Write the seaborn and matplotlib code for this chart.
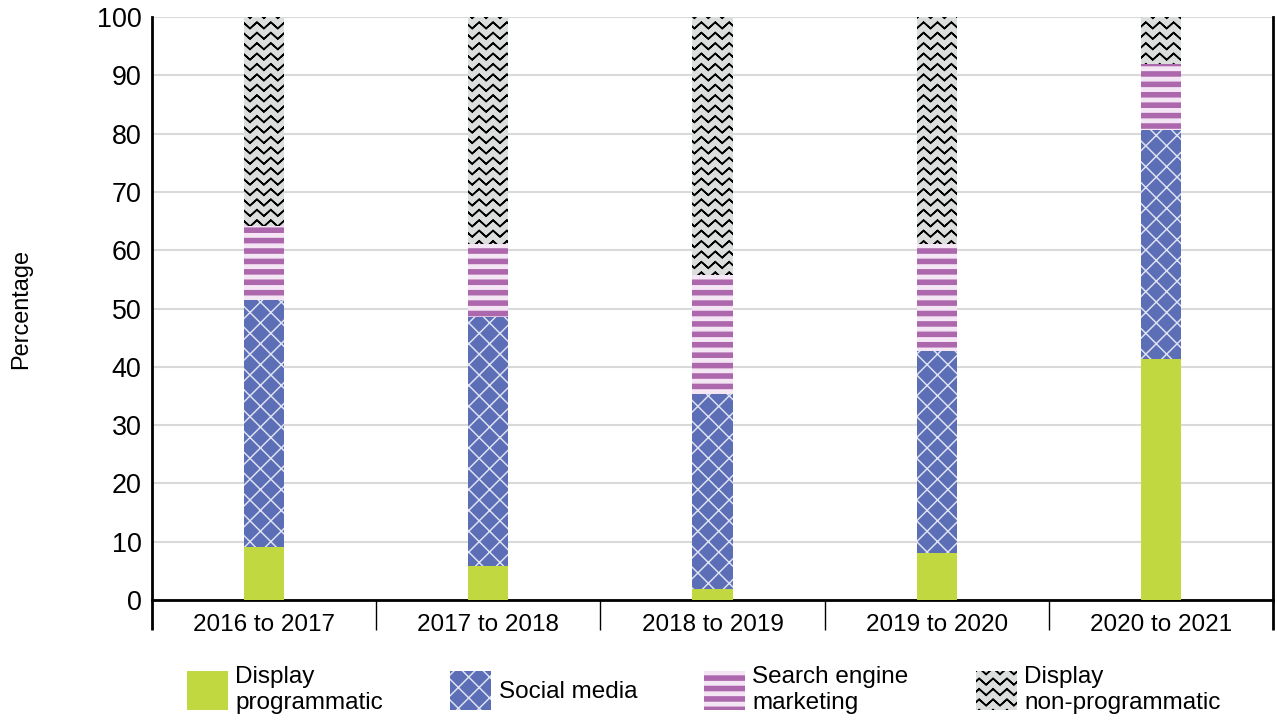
import warnings
import numpy as np
import matplotlib
matplotlib.use("Agg")
import matplotlib.pyplot as plt
from matplotlib import hatch as mhatch
from matplotlib.path import Path
from matplotlib.patches import Patch
import seaborn as sns

warnings.filterwarnings("ignore")

# Data (percent of spend)
periods = ["2016 to 2017", "2017 to 2018", "2018 to 2019", "2019 to 2020", "2020 to 2021"]
display_programmatic = [9.1, 5.9, 1.9, 8.1, 41.3]
social_media = [42.4, 42.6, 33.4, 34.6, 39.3]
search_engine = [12.7, 12.6, 20.4, 18.3, 11.4]
display_non_programmatic = [35.8, 38.9, 44.3, 39.0, 8.0]

series_names = ["Display\nprogrammatic", "Social media", "Search engine\nmarketing",
                "Display\nnon-programmatic"]


# matplotlib has no zigzag hatch, so register one ('z').
# Agg also fills hatch paths, so each row is a thin band (out and back).
class ZigZagHatch(mhatch.HatchPatternBase):
    def __init__(self, hatch, density):
        n = hatch.count('z')
        self.rows = 12 * n
        self.teeth = 9
        self.num_lines = self.rows
        self.pts = 2 * self.teeth + 1
        self.num_vertices = self.rows * 2 * self.pts

    def set_vertices_and_codes(self, vertices, codes):
        pts = self.pts
        xs = np.linspace(0, 1, pts)
        bump = (np.arange(pts) % 2) * 0.05
        xs2 = np.concatenate([xs, xs[::-1]])
        bump2 = np.concatenate([bump, bump[::-1] + 0.004])
        for r in range(self.rows):
            sl = slice(r * 2 * pts, (r + 1) * 2 * pts)
            vertices[sl, 0] = xs2
            vertices[sl, 1] = r / self.rows + 0.02 + bump2
            codes[sl] = Path.LINETO
            codes[r * 2 * pts] = Path.MOVETO


# thick horizontal stripes ('s') drawn as filled bands
class StripeHatch(mhatch.HatchPatternBase):
    def __init__(self, hatch, density):
        self.rows = 12 * hatch.count('s')
        self.num_lines = self.rows
        self.num_vertices = self.rows * 5

    def set_vertices_and_codes(self, vertices, codes):
        h = 0.027
        for r in range(self.rows):
            y = r / self.rows + 0.02
            vertices[r * 5:(r + 1) * 5] = [(-0.1, y), (1.1, y), (1.1, y + h),
                                           (-0.1, y + h), (-0.1, y)]
            codes[r * 5:(r + 1) * 5] = [Path.MOVETO, Path.LINETO, Path.LINETO,
                                        Path.LINETO, Path.CLOSEPOLY]


mhatch._hatch_types.append(ZigZagHatch)
mhatch._hatch_types.append(StripeHatch)

# style per series: face colour, hatch, hatch colour
styles = [
    ("#c2d840", None, "#c2d840"),
    ("#5c6fb6", "xx", "#dfe2f2"),
    ("#ad67ad", "s", "#f4e6f4"),
    ("#dcdddd", "z", "black"),
]

sns.set_style("white")
plt.rcParams['font.family'] = ['Liberation Sans', 'DejaVu Sans']
plt.rcParams['hatch.linewidth'] = 0.85

fig, ax = plt.subplots(figsize=(1277 / 125, 721 / 125), dpi=125)
fig.subplots_adjust(left=0.119, right=0.9969, top=0.9764, bottom=0.1678)

layers = [display_programmatic, social_media, search_engine, display_non_programmatic]
bottom = np.zeros(len(periods))
handles = []
for vals, (face, hatch, hcol), name in zip(layers, styles, series_names):
    sns.barplot(x=periods, y=vals, bottom=bottom, width=0.18, color=face,
                saturation=1, errorbar=None, hatch=hatch, edgecolor=hcol,
                linewidth=0, ax=ax, zorder=3)
    handles.append(Patch(facecolor=face, edgecolor=hcol, hatch=hatch,
                         linewidth=0, label=name))
    bottom = bottom + np.array(vals)

ax.set_ylim(0, 100)
ax.set_xlim(-0.5, len(periods) - 0.5)
ax.set_yticks(range(0, 101, 10))
ax.grid(axis="y", color="#d9d9d9", linewidth=1.2, zorder=0)
ax.set_axisbelow(True)
ax.tick_params(axis="y", length=0, pad=6, labelsize=15.5, labelcolor="black")
ax.tick_params(axis="x", length=0, pad=8, labelsize=14, labelcolor="black")

for side in ["left", "right", "bottom"]:
    ax.spines[side].set_color("black")
    ax.spines[side].set_linewidth(1.6)
ax.spines["top"].set_visible(False)

# boxes under the axis around each category label
edges = np.arange(len(periods) + 1) - 0.5
ax.vlines(edges[1:-1], -30 / 583, 0, transform=ax.get_xaxis_transform(),
          color="black", linewidth=0.8, clip_on=False)
ax.vlines(edges[[0, -1]], -30 / 583, 0, transform=ax.get_xaxis_transform(),
          color="black", linewidth=1.6, clip_on=False)

ax.set_xlabel("")
ax.set_ylabel("Percentage", fontsize=13.5, color="black")
ax.yaxis.set_label_coords(-0.107, 0.5)

fig.legend(handles=handles, loc="center", bbox_to_anchor=(0.551, 0.043), ncol=4,
           frameon=False, fontsize=14, handlelength=1.7, handleheight=2.1,
           handletextpad=0.3, columnspacing=2.75, labelspacing=0.2,
           labelcolor="black")

fig.savefig("out.png", dpi=125)
